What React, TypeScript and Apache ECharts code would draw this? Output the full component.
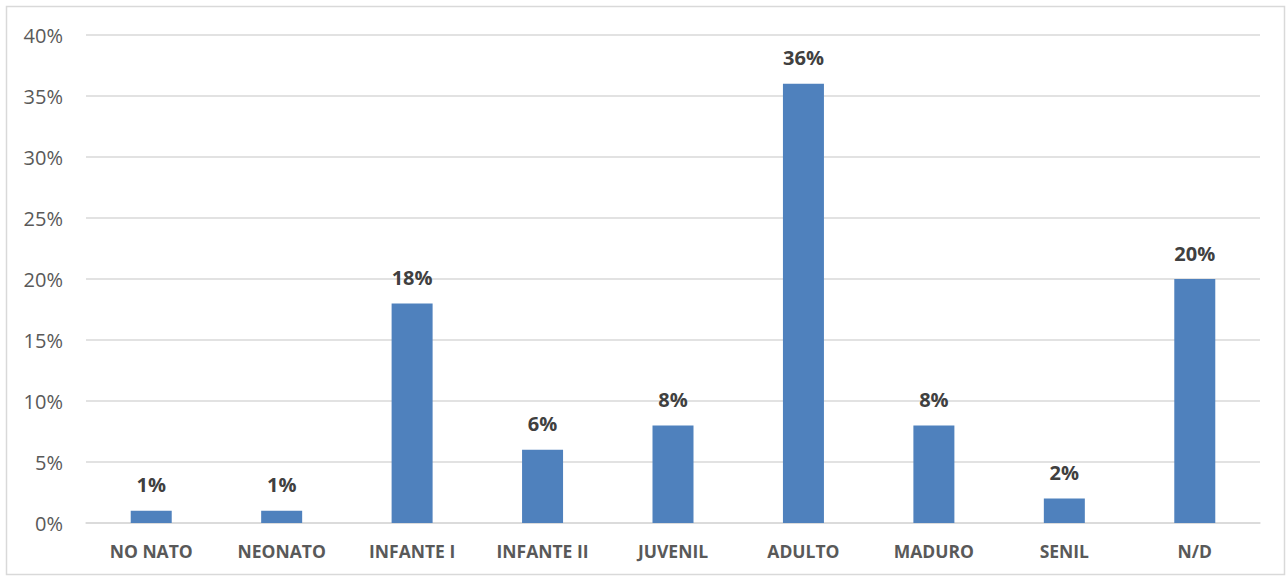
import React, { useEffect, useRef } from "react";
import * as echarts from "echarts";

const categories = ["NO NATO", "NEONATO", "INFANTE I", "INFANTE II", "JUVENIL", "ADULTO", "MADURO", "SENIL", "N/D"];
const values = [1, 1, 18, 6, 8, 36, 8, 2, 20];
const yTicks = { min: 0, max: 40, interval: 5 };

export default function App() {
  const ref = useRef<HTMLDivElement>(null);
  useEffect(() => {
    const chart = echarts.init(ref.current!, null, { renderer: "svg" });
    chart.setOption({
      animation: false,
      backgroundColor: "#ffffff",
      graphic: [
        {
          type: "rect",
          left: 4,
          top: 4,
          shape: { width: 1278, height: 568 },
          style: { fill: "none", stroke: "#D9D9D9", lineWidth: 1.5 },
          silent: true,
        },
      ],
      grid: { left: 86, right: 27, top: 35, bottom: 54, containLabel: false },
      xAxis: {
        type: "category",
        data: categories,
        axisLine: { show: true, lineStyle: { color: "#D9D9D9", width: 1.5 } },
        axisTick: { show: false },
        axisLabel: {
          color: "#595959",
          fontFamily: "Open Sans",
          fontWeight: "bold",
          fontSize: 17.5,
          margin: 19,
        },
      },
      yAxis: {
        type: "value",
        min: yTicks.min,
        max: yTicks.max,
        interval: yTicks.interval,
        axisLine: { show: false },
        axisTick: { show: false },
        splitLine: { lineStyle: { color: "#D9D9D9", width: 1.5 } },
        axisLabel: {
          formatter: "{value}%",
          color: "#595959",
          fontFamily: "Open Sans",
          fontSize: 20,
          margin: 23,
        },
      },
      series: [
        {
          type: "bar",
          data: values,
          barWidth: 41,
          itemStyle: { color: "#4F81BD" },
          label: {
            show: true,
            position: "top",
            distance: 16,
            formatter: "{c}%",
            color: "#404040",
            fontFamily: "Open Sans",
            fontWeight: "bold",
            fontSize: 20,
          },
        },
      ],
    });
    return () => chart.dispose();
  }, []);
  return (
    <div
      ref={ref}
      style={{ position: "absolute", left: 0, top: 0, width: 1287, height: 577 }}
    />
  );
}
